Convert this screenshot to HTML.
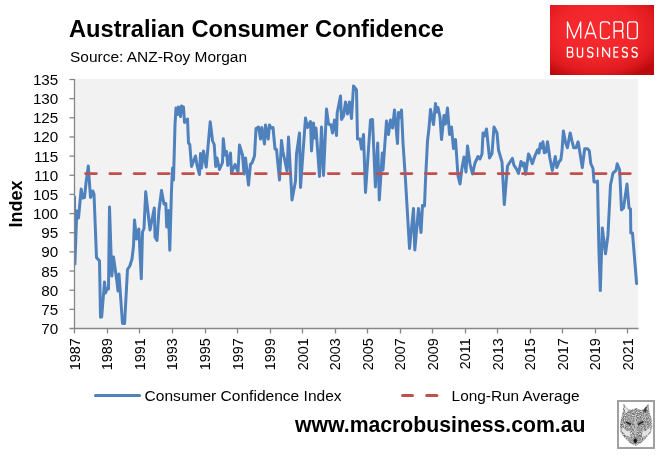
<!DOCTYPE html>
<html><head><meta charset="utf-8"><style>
html,body{margin:0;padding:0;background:#fff;}
#c{position:relative;width:662px;height:461px;overflow:hidden;background:#fff;}
svg{position:absolute;left:0;top:0;will-change:transform;}
text{font-family:"Liberation Sans",sans-serif;}
</style></head><body><div id="c">
<svg width="662" height="461" viewBox="0 0 662 461">
<defs>
<radialGradient id="rg" cx="45%" cy="38%" r="72%">
<stop offset="0" stop-color="#f82b2f"/><stop offset="0.5" stop-color="#f2272b"/><stop offset="0.8" stop-color="#e01b1f"/><stop offset="1" stop-color="#b90a0e"/>
</radialGradient>
</defs>
<text x="69" y="37" font-size="24.4" font-weight="bold" fill="#000" textLength="375" lengthAdjust="spacingAndGlyphs">Australian Consumer Confidence</text>
<text x="70" y="61.8" font-size="14" fill="#000" textLength="177" lengthAdjust="spacingAndGlyphs">Source: ANZ-Roy Morgan</text>
<rect x="550" y="5" width="104" height="70" fill="url(#rg)"/>
<g fill="none" stroke="#fff" stroke-width="1.3" stroke-linejoin="round">
<path d="M567.5,38.6 V21.9 L574.1,38.3 L580.7,21.9 V38.6"/>
<path d="M584.8,38.6 L590.5,21.9 L596.2,38.6 M586.6,33.5 H594.4"/>
<path d="M609.5,24.50 Q609.4,21.9 606.40,21.9 H603.10 Q600.5,21.9 600.5,24.50 V36.00 Q600.5,38.6 603.10,38.6 H606.40 Q609.4,38.6 609.5,36.00"/>
<path d="M614.1,38.6 V21.9 H620.20 Q622.8,21.9 622.8,24.50 V28.40 Q622.8,31 620.20,31 H614.1 M621.20,31 Q622.8,31.5 622.8,33.5 V38.6"/>
<path d="M630.30,21.9 H634.70 Q637.3,21.9 637.3,24.50 V36.00 Q637.3,38.6 634.70,38.6 H630.30 Q627.7,38.6 627.7,36.00 V24.50 Q627.7,21.9 630.30,21.9 Z"/>
<path d="M567.4,57.1 V47.4 H570.80 Q572.6,47.4 572.6,49.20 V50.30 Q572.6,52.1 570.80,52.1 H567.4 M571.10,52.1 Q572.9,52.1 572.9,53.90 V55.30 Q572.9,57.1 571.10,57.1 H567.4"/>
<path d="M577.4,47.4 V55.10 Q577.4,57.1 580,57.1 Q582.6,57.1 582.6,55.10 V47.4"/>
<path d="M592.90,49.34 Q592.90,47.40 590.25,47.40 Q587.60,47.40 587.60,49.83 Q587.60,52.25 590.25,52.25 Q592.90,52.25 592.90,54.67 Q592.90,57.10 590.25,57.10 Q587.60,57.10 587.60,55.16"/>
<path d="M597.6,47.4 V57.1"/>
<path d="M602.7,57.1 V47.4 L609.5,57.1 V47.4"/>
<path d="M618.4,47.4 H614 V57.1 H618.4 M614,52.1 H618"/>
<path d="M627.40,49.34 Q627.40,47.40 624.90,47.40 Q622.40,47.40 622.40,49.83 Q622.40,52.25 624.90,52.25 Q627.40,52.25 627.40,54.67 Q627.40,57.10 624.90,57.10 Q622.40,57.10 622.40,55.16"/>
<path d="M637.20,49.34 Q637.20,47.40 634.65,47.40 Q632.10,47.40 632.10,49.83 Q632.10,52.25 634.65,52.25 Q637.20,52.25 637.20,54.67 Q637.20,57.10 634.65,57.10 Q632.10,57.10 632.10,55.16"/>
</g>
<rect x="75" y="79" width="563" height="249.5" fill="#f2f2f2"/>
<g stroke="#868686" stroke-width="1.3" fill="none">
<line x1="74.5" y1="79" x2="74.5" y2="333.5"/>
<line x1="69.5" y1="328.5" x2="638.5" y2="328.5"/>
<line x1="69.5" y1="79.50" x2="74.5" y2="79.50"/>
<line x1="69.5" y1="98.65" x2="74.5" y2="98.65"/>
<line x1="69.5" y1="117.81" x2="74.5" y2="117.81"/>
<line x1="69.5" y1="136.96" x2="74.5" y2="136.96"/>
<line x1="69.5" y1="156.12" x2="74.5" y2="156.12"/>
<line x1="69.5" y1="175.27" x2="74.5" y2="175.27"/>
<line x1="69.5" y1="194.42" x2="74.5" y2="194.42"/>
<line x1="69.5" y1="213.58" x2="74.5" y2="213.58"/>
<line x1="69.5" y1="232.73" x2="74.5" y2="232.73"/>
<line x1="69.5" y1="251.88" x2="74.5" y2="251.88"/>
<line x1="69.5" y1="271.04" x2="74.5" y2="271.04"/>
<line x1="69.5" y1="290.19" x2="74.5" y2="290.19"/>
<line x1="69.5" y1="309.35" x2="74.5" y2="309.35"/>
<line x1="107.50" y1="328.5" x2="107.50" y2="333.5"/>
<line x1="139.50" y1="328.5" x2="139.50" y2="333.5"/>
<line x1="172.50" y1="328.5" x2="172.50" y2="333.5"/>
<line x1="205.50" y1="328.5" x2="205.50" y2="333.5"/>
<line x1="237.50" y1="328.5" x2="237.50" y2="333.5"/>
<line x1="270.50" y1="328.5" x2="270.50" y2="333.5"/>
<line x1="302.50" y1="328.5" x2="302.50" y2="333.5"/>
<line x1="335.50" y1="328.5" x2="335.50" y2="333.5"/>
<line x1="367.50" y1="328.5" x2="367.50" y2="333.5"/>
<line x1="400.50" y1="328.5" x2="400.50" y2="333.5"/>
<line x1="432.50" y1="328.5" x2="432.50" y2="333.5"/>
<line x1="465.50" y1="328.5" x2="465.50" y2="333.5"/>
<line x1="497.50" y1="328.5" x2="497.50" y2="333.5"/>
<line x1="530.50" y1="328.5" x2="530.50" y2="333.5"/>
<line x1="562.50" y1="328.5" x2="562.50" y2="333.5"/>
<line x1="595.50" y1="328.5" x2="595.50" y2="333.5"/>
<line x1="627.50" y1="328.5" x2="627.50" y2="333.5"/>
</g>
<g font-size="15" fill="#000">
<text transform="translate(58.3,85.00) scale(1.015,1)" text-anchor="end">135</text>
<text transform="translate(58.3,104.15) scale(1.015,1)" text-anchor="end">130</text>
<text transform="translate(58.3,123.31) scale(1.015,1)" text-anchor="end">125</text>
<text transform="translate(58.3,142.46) scale(1.015,1)" text-anchor="end">120</text>
<text transform="translate(58.3,161.62) scale(1.015,1)" text-anchor="end">115</text>
<text transform="translate(58.3,180.77) scale(1.015,1)" text-anchor="end">110</text>
<text transform="translate(58.3,199.92) scale(1.015,1)" text-anchor="end">105</text>
<text transform="translate(58.3,219.08) scale(1.015,1)" text-anchor="end">100</text>
<text transform="translate(58.3,238.23) scale(1.015,1)" text-anchor="end">95</text>
<text transform="translate(58.3,257.38) scale(1.015,1)" text-anchor="end">90</text>
<text transform="translate(58.3,276.54) scale(1.015,1)" text-anchor="end">85</text>
<text transform="translate(58.3,295.69) scale(1.015,1)" text-anchor="end">80</text>
<text transform="translate(58.3,314.85) scale(1.015,1)" text-anchor="end">75</text>
<text transform="translate(58.3,334.00) scale(1.015,1)" text-anchor="end">70</text>
</g>
<g font-size="15" fill="#000">
<text transform="translate(79.90,338.3) rotate(-90) scale(0.96,1)" text-anchor="end">1987</text>
<text transform="translate(112.43,338.3) rotate(-90) scale(0.96,1)" text-anchor="end">1989</text>
<text transform="translate(144.96,338.3) rotate(-90) scale(0.96,1)" text-anchor="end">1991</text>
<text transform="translate(177.49,338.3) rotate(-90) scale(0.96,1)" text-anchor="end">1993</text>
<text transform="translate(210.02,338.3) rotate(-90) scale(0.96,1)" text-anchor="end">1995</text>
<text transform="translate(242.55,338.3) rotate(-90) scale(0.96,1)" text-anchor="end">1997</text>
<text transform="translate(275.08,338.3) rotate(-90) scale(0.96,1)" text-anchor="end">1999</text>
<text transform="translate(307.61,338.3) rotate(-90) scale(0.96,1)" text-anchor="end">2001</text>
<text transform="translate(340.14,338.3) rotate(-90) scale(0.96,1)" text-anchor="end">2003</text>
<text transform="translate(372.66,338.3) rotate(-90) scale(0.96,1)" text-anchor="end">2005</text>
<text transform="translate(405.19,338.3) rotate(-90) scale(0.96,1)" text-anchor="end">2007</text>
<text transform="translate(437.72,338.3) rotate(-90) scale(0.96,1)" text-anchor="end">2009</text>
<text transform="translate(470.25,338.3) rotate(-90) scale(0.96,1)" text-anchor="end">2011</text>
<text transform="translate(502.78,338.3) rotate(-90) scale(0.96,1)" text-anchor="end">2013</text>
<text transform="translate(535.31,338.3) rotate(-90) scale(0.96,1)" text-anchor="end">2015</text>
<text transform="translate(567.84,338.3) rotate(-90) scale(0.96,1)" text-anchor="end">2017</text>
<text transform="translate(600.37,338.3) rotate(-90) scale(0.96,1)" text-anchor="end">2019</text>
<text transform="translate(632.90,338.3) rotate(-90) scale(0.96,1)" text-anchor="end">2021</text>
</g>
<text transform="translate(21.6,203.9) rotate(-90)" text-anchor="middle" font-size="18" font-weight="bold" fill="#000">Index</text>
<clipPath id="pc"><rect x="75" y="75" width="566" height="253.5"/></clipPath>
<path d="M74.5,197 L74.9,264 L76.8,211 L78.5,218 L81.2,189 L82.5,198 L84.5,197.5 L86,183 L88.3,166 L90.5,197.5 L92.8,191 L94,194 L96.5,257.5 L99.5,261 L100.5,317.3 L101.7,316.8 L104.5,282 L105.5,293 L107.5,288 L108.5,289 L109.5,207 L111.8,276 L113.5,257 L117,282 L118,291 L119,274 L122.5,323.5 L124.6,323.5 L127.5,269.5 L129.8,266 L132,259 L133.5,246 L134.5,220 L136.5,239 L138.8,229 L141.3,278.8 L142.5,232 L144,228.5 L145.7,191.8 L150,230 L154.3,208 L155,237 L157,240.5 L158.9,211 L161.5,190.5 L164,204 L165.8,203.5 L166.7,227 L168.4,210.5 L169.8,250.3 L171.5,190 L172.5,168 L173.5,180 L175,125 L176,108 L177.5,114.5 L178.5,107 L180.5,116.5 L181.5,106 L183.5,107 L184.5,122.5 L187.5,119 L188.5,143 L189.8,144.5 L191.5,166.5 L195.5,156 L197,165 L199.5,174.5 L200.5,153.5 L201.5,168 L203.5,151 L206.2,167 L210.2,121.8 L212.6,141 L214.2,144.5 L215.7,166.5 L217,158 L219.5,169.5 L222.5,162.5 L223.3,138.8 L225,155 L226.5,151.5 L227.8,165.5 L230.5,153 L231.5,173 L235,164.5 L238,172 L239.5,145 L242.5,155 L244,174 L245.5,158 L248.5,185 L250.5,164 L252,163 L254.5,156 L256,128.5 L258.5,127 L260.5,139 L261.8,127.5 L264.5,144 L265.5,125 L268.2,139 L269.5,125 L271,128 L273,127.5 L275,149 L276.5,149.5 L279.5,180 L281.5,140.5 L283,152 L287,171 L288.5,137 L292,200 L295.5,181 L296.5,154 L299.5,133 L300.5,187.5 L305.5,118 L307.5,127.5 L310.5,121.5 L311.5,151 L313.5,123 L314.5,138 L316,128 L319.5,176.5 L321.5,127 L323.5,175.5 L326.5,109 L328.5,124 L331,125 L332.5,133 L334.5,120 L336.5,135.5 L337.2,113 L340.5,96 L341.5,119.5 L343.5,116 L345.5,102 L347.5,114 L349.5,102 L351.5,118.5 L353.5,86 L356.5,90 L357.5,139 L360,139 L361.5,149 L363.5,134.5 L365.5,192.5 L370.5,120 L372.5,119.5 L375.4,187 L377.7,143 L379.3,200 L382.3,153 L383,170 L386.5,121 L388.5,134.5 L390.5,120 L392.5,128 L394.5,110 L397.5,143.5 L398.5,112.5 L400,117.5 L401.5,110 L403,142.7 L405.5,180 L409.5,248.5 L413.5,208.5 L414.8,250 L418.5,208.5 L421,232.5 L422.5,205.5 L424.5,206 L425.5,180 L427.5,141 L429,128 L430.5,109.5 L433.5,124.5 L435.5,103.5 L436.5,112 L438,107.5 L440,117 L441.5,139.5 L444,115.5 L445.5,124 L447.5,108 L449.5,134.5 L451.5,127 L453.5,148.5 L455.5,139.5 L458,176 L460,184 L462,168 L464,157 L466,172 L467.5,146 L470,164 L472.5,174 L475,163 L478,156.5 L480,159 L482,154 L483,133 L484.5,136 L486.5,129 L489.5,158 L492,153.5 L494,127 L497,133 L498.5,150 L502,162 L504.3,204.6 L507.5,166 L512.4,158.3 L513.9,165.2 L516.5,169 L518.5,173.5 L521,161.4 L523,166 L524,163 L525.6,174.3 L528.5,154 L530,157 L532.3,163.7 L534.5,157 L537.5,149.8 L539,153 L540.3,143.8 L541.5,148 L542.9,141.8 L544.3,152.8 L546,152 L547.5,141.8 L549.8,157.8 L552.3,170.5 L555.3,156.5 L556.8,167.5 L559,162 L560.8,159.8 L562,151 L563.4,130.9 L565.4,141.8 L567.4,147.8 L570.2,132.9 L572,141 L573.7,147.8 L576,147.8 L578.1,141.8 L580.1,153.8 L582.3,167.5 L584.7,148.8 L587.5,148.8 L589.3,150.8 L590.8,163.7 L593,168.5 L594,182 L596,182 L597.5,181 L598.9,249.8 L600.3,290.6 L602.3,227.9 L605.5,253.8 L607.9,235.9 L610.5,185 L613,173 L616,170.5 L617.2,163.7 L619.6,169.7 L621.5,210 L623.5,208 L627,184 L629,208 L630.5,209 L630.8,232.9 L632.5,233 L636.6,283.6" fill="none" stroke="#4f81bd" stroke-width="3" stroke-linejoin="round" stroke-linecap="round" clip-path="url(#pc)"/>
<line x1="85.6" y1="173.6" x2="632" y2="173.6" stroke="#c0504d" stroke-width="2.9" stroke-linecap="round" stroke-dasharray="10.75 13.52"/>
<line x1="95.5" y1="395.4" x2="139.5" y2="395.4" stroke="#4f81bd" stroke-width="3" stroke-linecap="round"/>
<text x="144.6" y="400.9" font-size="14" fill="#000" textLength="197" lengthAdjust="spacingAndGlyphs">Consumer Confidence Index</text>
<line x1="402.6" y1="395.4" x2="412.5" y2="395.4" stroke="#c0504d" stroke-width="3" stroke-linecap="round"/>
<line x1="426.7" y1="395.4" x2="436.9" y2="395.4" stroke="#c0504d" stroke-width="3" stroke-linecap="round"/>
<text x="451.6" y="400.9" font-size="14" fill="#000" textLength="128" lengthAdjust="spacingAndGlyphs">Long-Run Average</text>
<text x="295" y="432" font-size="22" font-weight="bold" fill="#000" textLength="290.5" lengthAdjust="spacingAndGlyphs">www.macrobusiness.com.au</text>
<rect x="618" y="401" width="36" height="47" fill="#fff" stroke="#a0a0a0" stroke-width="2"/>
<filter id="tx" x="0" y="0" width="100%" height="100%"><feTurbulence type="fractalNoise" baseFrequency="0.9" numOctaves="2" seed="3" result="n"/><feColorMatrix in="n" type="matrix" values="0 0 0 0 0  0 0 0 0 0  0 0 0 0 0  0 0 0 -1.6 1.45" result="a"/><feComposite in="SourceGraphic" in2="a" operator="in"/></filter>
<g filter="url(#tx)">
<path d="M623.5,403.5 L628,409 L631,410 L636,408 L641,410 L644,409 L648.6,403.5 L649.5,413 L651.5,418 L652.3,426 L651,432 L647,437 L641,443 L635.5,446 L630,443 L624,437 L620.5,432 L620,424 L621.5,417 L622.8,412 Z" fill="#6a6a6a"/>
</g>
<path d="M624.5,406 L628.5,410.5 L625.5,414 Z" fill="#e6e6e6"/>
<path d="M646.5,406 L643,410.5 L646,413 Z" fill="#404040"/>
<path d="M622.5,427 Q626,432 630,431 L630.5,437 Q625,436 622,431 Z M650,427 Q646.5,432 642.5,431 L642,437 Q647.5,436 650.5,431 Z" fill="#f0f0f0" opacity="0.85"/>
<path d="M626,422 L631,424.5 M638,424.5 L643.5,421.5" stroke="#202020" stroke-width="1.6"/>
<ellipse cx="635.3" cy="440.8" rx="1.8" ry="2.2" fill="#151515"/>
<path d="M635.5,414 L635.5,436" stroke="#d0d0d0" stroke-width="1.5" opacity="0.6"/>
</svg></div></body></html>
